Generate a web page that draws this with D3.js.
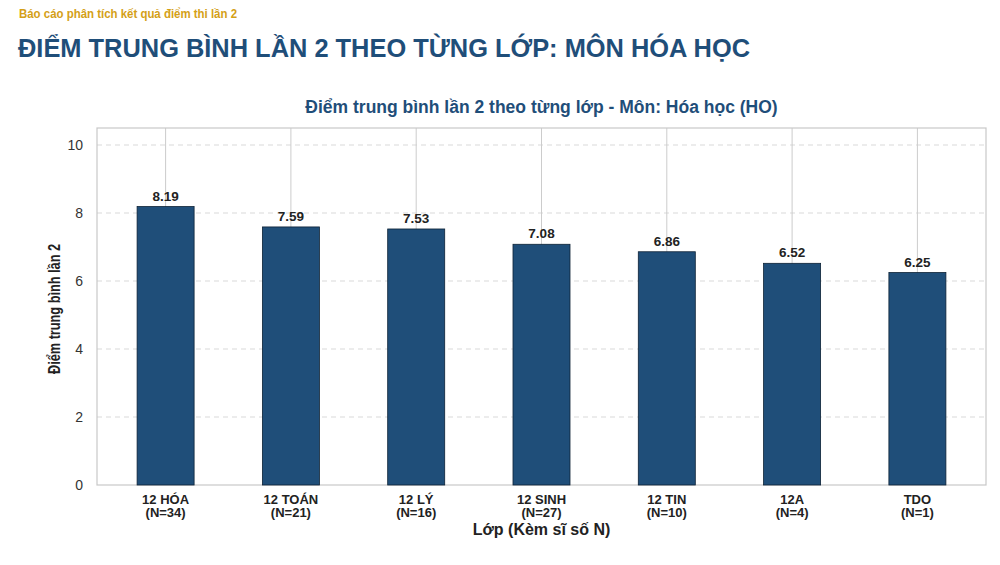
<!DOCTYPE html>
<html>
<head>
<meta charset="utf-8">
<script src="https://cdn.jsdelivr.net/npm/d3@7"></script>
<style>
  body { margin: 0; background: #fff; }
  svg { display: block; }
</style>
</head>
<body>
<svg id="chart" width="1000" height="565"></svg>
<script>
// du lieu
const classes = ['12 HÓA', '12 TOÁN', '12 LÝ', '12 SINH', '12 TIN', '12A', 'TDO'];
const counts = [34, 21, 16, 27, 10, 4, 1];
const scores = [8.19, 7.59, 7.53, 7.08, 6.86, 6.52, 6.25];
const yTicks = [0, 2, 4, 6, 8, 10];

const svg = d3.select('#chart');
const plot = { left: 97, right: 986, top: 128, bottom: 485 };
const blue = '#1f4e79';
const font = 'Liberation Sans, Arial, sans-serif';

// tieu de trang
svg.append('text')
   .attr('x', 19).attr('y', 18)
   .attr('font-family', font)
   .attr('font-weight', 'bold')
   .attr('font-size', 12)
   .attr('textLength', 218)
   .attr('lengthAdjust', 'spacingAndGlyphs')
   .attr('fill', '#d4a017')
   .text('Báo cáo phân tích kết quả điểm thi lần 2');

svg.append('text')
   .attr('x', 18).attr('y', 57)
   .attr('font-family', font)
   .attr('font-weight', 'bold')
   .attr('font-size', 26)
   .attr('textLength', 732)
   .attr('lengthAdjust', 'spacingAndGlyphs')
   .attr('fill', blue)
   .text('ĐIỂM TRUNG BÌNH LẦN 2 THEO TỪNG LỚP: MÔN HÓA HỌC');

svg.append('text')
   .attr('x', (plot.left + plot.right) / 2).attr('y', 113)
   .attr('text-anchor', 'middle')
   .attr('font-family', font)
   .attr('font-weight', 'bold')
   .attr('font-size', 17.5)
   .attr('fill', blue)
   .text('Điểm trung bình lần 2 theo từng lớp - Môn: Hóa học (HO)');

const x = d3.scaleBand()
  .domain(classes)
  .range([plot.left, plot.right])
  .paddingInner(0.545)
  .paddingOuter(0.32);

const y = d3.scaleLinear()
  .domain([0, 10.5])
  .range([plot.bottom, plot.top]);

const g = svg.append('g');

// luoi ngang (net dut)
g.selectAll('.hgrid')
 .data(yTicks.filter(d => d > 0))
 .enter().append('line')
 .attr('x1', plot.left).attr('x2', plot.right)
 .attr('y1', d => y(d)).attr('y2', d => y(d))
 .attr('stroke', '#d9d9d9')
 .attr('stroke-dasharray', '5,4');

// luoi doc o giua cot
g.selectAll('.vgrid')
 .data(classes)
 .enter().append('line')
 .attr('x1', d => x(d) + x.bandwidth() / 2)
 .attr('x2', d => x(d) + x.bandwidth() / 2)
 .attr('y1', plot.top).attr('y2', plot.bottom)
 .attr('stroke', '#cccccc');

// khung
g.append('rect')
 .attr('x', plot.left).attr('y', plot.top)
 .attr('width', plot.right - plot.left)
 .attr('height', plot.bottom - plot.top)
 .attr('fill', 'none')
 .attr('stroke', '#c8c8c8')
 .attr('stroke-width', 1.2);

// cot
g.selectAll('.bar')
 .data(scores)
 .enter().append('rect')
 .attr('x', (d, i) => x(classes[i]))
 .attr('y', d => y(d))
 .attr('width', x.bandwidth())
 .attr('height', d => y(0) - y(d))
 .attr('fill', blue)
 .attr('stroke', '#0d2236')
 .attr('stroke-width', 0.8);

// nhan gia tri
g.selectAll('.val')
 .data(scores)
 .enter().append('text')
 .attr('x', (d, i) => x(classes[i]) + x.bandwidth() / 2)
 .attr('y', d => y(d) - 6)
 .attr('text-anchor', 'middle')
 .attr('font-family', font)
 .attr('font-weight', 'bold')
 .attr('font-size', 13.5)
 .attr('fill', '#222')
 .text(d => d.toFixed(2));

// truc y
const yAxis = g.append('g')
  .attr('transform', `translate(${plot.left},0)`)
  .call(d3.axisLeft(y).tickValues(yTicks).tickSize(0).tickPadding(14));
yAxis.select('.domain').remove();
yAxis.selectAll('.tick text')
  .attr('font-family', font)
  .attr('font-size', 14)
  .attr('fill', '#333');

// truc x
const xAxis = g.append('g')
  .attr('transform', `translate(0,${plot.bottom})`)
  .call(d3.axisBottom(x).tickSize(0).tickFormat(''));
xAxis.select('.domain').remove();
xAxis.selectAll('.tick').each(function (d, i) {
  const t = d3.select(this).append('text')
    .attr('text-anchor', 'middle')
    .attr('font-family', font)
    .attr('font-weight', 'bold')
    .attr('font-size', 13)
    .attr('fill', '#222');
  t.append('tspan').attr('x', 0).attr('y', 19).text(d);
  t.append('tspan').attr('x', 0).attr('y', 32).text(`(N=${counts[i]})`);
});

svg.append('text')
   .attr('x', (plot.left + plot.right) / 2).attr('y', 535)
   .attr('text-anchor', 'middle')
   .attr('font-family', font)
   .attr('font-weight', 'bold')
   .attr('font-size', 16)
   .attr('fill', '#222')
   .text('Lớp (Kèm sĩ số N)');

// nhan truc y (chu hep)
svg.append('text')
   .attr('transform', 'translate(60,309) rotate(-90)')
   .attr('text-anchor', 'middle')
   .attr('font-family', font)
   .attr('font-weight', 'bold')
   .attr('font-size', 16)
   .attr('textLength', 130)
   .attr('lengthAdjust', 'spacingAndGlyphs')
   .attr('fill', '#222')
   .text('Điểm trung bình lần 2');
</script>
</body>
</html>
